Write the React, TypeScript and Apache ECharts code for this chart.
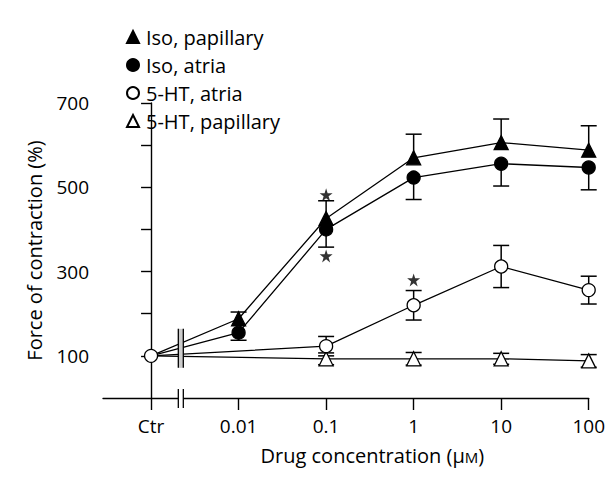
import React, { useEffect, useRef } from "react";
import * as echarts from "echarts";

// Categories (positions on the x axis by index)
const xLabels = ["Ctr", "0.01", "0.1", "1", "10", "100"];

// Iso, papillary (filled triangle)
const isoPapX = [0, 1, 2, 3, 4, 5];
const isoPapY = [100, 188, 426, 570, 606, 588];
const isoPapErr = [0, 16, 42, 56, 56, 58];

// Iso, atria (filled circle)
const isoAtrX = [0, 1, 2, 3, 4, 5];
const isoAtrY = [100, 155, 400, 523, 556, 547];
const isoAtrErr = [0, 18, 42, 52, 53, 53];

// 5-HT, atria (open circle)
const htAtrX = [0, 2, 3, 4, 5];
const htAtrY = [100, 123, 220, 312, 256];
const htAtrErr = [0, 23, 35, 50, 33];

// 5-HT, papillary (open triangle)
const htPapX = [0, 2, 3, 4, 5];
const htPapY = [100, 93, 93, 93, 88];
const htPapErr = [0, 14, 15, 13, 15];

// significance stars
const starX = [2, 2, 3];
const starY = [482, 337, 280];

const yTicks = [100, 200, 300, 400, 500, 600, 700];
const yLabels = [100, 300, 500, 700];

const FONT = "Open Sans";
const STAR =
  "path://M12,0 L14.8,8.6 L24,8.6 L16.6,14 L19.4,23 L12,17.4 L4.6,23 L7.4,14 L0,8.6 L9.2,8.6 Z";

function pairs(xs: number[], ys: number[]) {
  return xs.map((x, i) => [x, ys[i]]);
}

// dir: 1 = up only, -1 = down only, 0 = both
function errData(xs: number[], ys: number[], es: number[], dir: number) {
  return xs
    .map((x, i) => [x, ys[i], es[i], dir])
    .filter((d) => d[2] > 0);
}

function errSeries(data: number[][]) {
  return {
    type: "custom",
    z: 1,
    silent: true,
    data,
    renderItem: (params: any, api: any) => {
      const x = api.value(0);
      const y = api.value(1);
      const e = api.value(2);
      const dir = api.value(3);
      const c = api.coord([x, y]);
      const hi = api.coord([x, y + e]);
      const lo = api.coord([x, y - e]);
      const w = 8;
      const st = { stroke: "#000", lineWidth: 1.5 };
      const children: any[] = [];
      if (dir >= 0) {
        children.push({ type: "line", shape: { x1: c[0], y1: c[1], x2: hi[0], y2: hi[1] }, style: st });
        children.push({ type: "line", shape: { x1: hi[0] - w, y1: hi[1], x2: hi[0] + w, y2: hi[1] }, style: st });
      }
      if (dir <= 0) {
        children.push({ type: "line", shape: { x1: c[0], y1: c[1], x2: lo[0], y2: lo[1] }, style: st });
        children.push({ type: "line", shape: { x1: lo[0] - w, y1: lo[1], x2: lo[0] + w, y2: lo[1] }, style: st });
      }
      return { type: "group", children };
    },
  };
}

function lineSeries(name: string, xs: number[], ys: number[], symbol: string, filled: boolean, z: number, hideFirst: boolean) {
  return {
    name,
    type: "line",
    z,
    symbol,
    symbolSize: symbol === "triangle" ? 14 : 13,
    lineStyle: { color: "#000", width: 1.3 },
    itemStyle: {
      color: filled ? "#000" : "#fff",
      borderColor: "#000",
      borderWidth: 1.3,
      opacity: 1,
    },
    data: pairs(xs, ys).map((p, i) =>
      i === 0 && hideFirst ? { value: p, symbol: "none" } : { value: p }
    ),
  };
}

export default function App() {
  const ref = useRef<HTMLDivElement>(null);
  useEffect(() => {
    if (!ref.current) return;
    const chart = echarts.init(ref.current, null, { renderer: "svg" });
    const option: any = {
      animation: false,
      backgroundColor: "#fff",
      textStyle: { fontFamily: FONT, color: "#000" },
      grid: { left: 95, right: 16, top: 95, bottom: 71 },
      legend: {
        orient: "vertical",
        left: 113,
        top: 13,
        itemWidth: 12,
        itemHeight: 12,
        itemGap: 6,
        textStyle: { fontFamily: FONT, fontSize: 20, color: "#000", lineHeight: 22, padding: [0, 0, 0, 2] },
        data: [
          { name: "Iso, papillary", icon: "triangle" },
          { name: "Iso, atria", icon: "circle" },
          { name: "5-HT, atria", icon: "circle" },
          { name: "5-HT, papillary", icon: "triangle" },
        ],
      },
      xAxis: {
        type: "value",
        min: -0.549,
        max: 5,
        splitLine: { show: false },
        axisLine: { lineStyle: { color: "#000", width: 1.4 } },
        axisTick: {
          customValues: [0, 1, 2, 3, 4, 5],
          length: 12,
          lineStyle: { color: "#000", width: 1.4 },
        },
        axisLabel: {
          customValues: [0, 1, 2, 3, 4, 5],
          margin: 18,
          fontFamily: FONT,
          fontSize: 19,
          color: "#000",
          formatter: (v: number) => xLabels[Math.round(v)] ?? "",
        },
        name: "Drug concentration ({u|μ}{m|M})",
        nameLocation: "middle",
        nameGap: 47,
        nameTextStyle: {
          fontFamily: FONT,
          fontSize: 20,
          color: "#000",
          padding: [0, 0, 0, 53],
          rich: {
            u: { fontFamily: FONT, fontSize: 20, color: "#000" },
            m: { fontFamily: FONT, fontSize: 15, color: "#000", padding: [3, 0, 0, 0] },
          },
        },
      },
      yAxis: {
        type: "value",
        min: 0,
        max: 700,
        interval: 100,
        splitLine: { show: false },
        axisLine: { lineStyle: { color: "#000", width: 1.4 } },
        axisTick: {
          customValues: yTicks,
          length: 10,
          lineStyle: { color: "#000", width: 1.4 },
        },
        axisLabel: {
          customValues: yLabels,
          margin: 14,
          fontFamily: FONT,
          fontSize: 19,
          color: "#000",
        },
        name: "Force of contraction (%)",
        nameLocation: "middle",
        nameGap: 59,
        nameTextStyle: { fontFamily: FONT, fontSize: 20, color: "#000" },
      },
      series: [
        errSeries(errData(isoPapX, isoPapY, isoPapErr, 1)),
        errSeries(errData(isoAtrX, isoAtrY, isoAtrErr, -1)),
        errSeries(errData(htAtrX, htAtrY, htAtrErr, 0)),
        errSeries(errData(htPapX, htPapY, htPapErr, 0)),
        lineSeries("Iso, papillary", isoPapX, isoPapY, "triangle", true, 3, true),
        lineSeries("Iso, atria", isoAtrX, isoAtrY, "circle", true, 3, true),
        lineSeries("5-HT, papillary", htPapX, htPapY, "triangle", false, 3, true),
        lineSeries("5-HT, atria", htAtrX, htAtrY, "circle", false, 4, false),
        {
          type: "scatter",
          z: 5,
          symbol: STAR,
          symbolSize: 13,
          itemStyle: { color: "#000" },
          data: pairs(starX, starY),
        },
      ],
    };
    chart.setOption(option);

    // axis-break marks
    const bx = 0.34;
    const pa = chart.convertToPixel({ gridIndex: 0 }, [bx, 0]) as number[];
    const pd = chart.convertToPixel({ gridIndex: 0 }, [bx, 100]) as number[];
    const g = 2.5;
    const ls = { stroke: "#000", lineWidth: 1.3 };
    chart.setOption({
      graphic: [
        { type: "rect", z: 10, shape: { x: pa[0] - g, y: pa[1] - 3, width: 2 * g, height: 6 }, style: { fill: "#fff" } },
        { type: "line", z: 11, shape: { x1: pa[0] - g, y1: pa[1] - 9, x2: pa[0] - g, y2: pa[1] + 10 }, style: ls },
        { type: "line", z: 11, shape: { x1: pa[0] + g, y1: pa[1] - 9, x2: pa[0] + g, y2: pa[1] + 10 }, style: ls },
        { type: "rect", z: 10, shape: { x: pd[0] - g, y: pd[1] - 27, width: 2 * g, height: 39 }, style: { fill: "#ccc" } },
        { type: "line", z: 11, shape: { x1: pd[0] - g, y1: pd[1] - 27, x2: pd[0] - g, y2: pd[1] + 12 }, style: ls },
        { type: "line", z: 11, shape: { x1: pd[0] + g, y1: pd[1] - 27, x2: pd[0] + g, y2: pd[1] + 12 }, style: ls },
      ],
    });

    return () => chart.dispose();
  }, []);
  return <div ref={ref} style={{ width: 600, height: 462 }} />;
}
